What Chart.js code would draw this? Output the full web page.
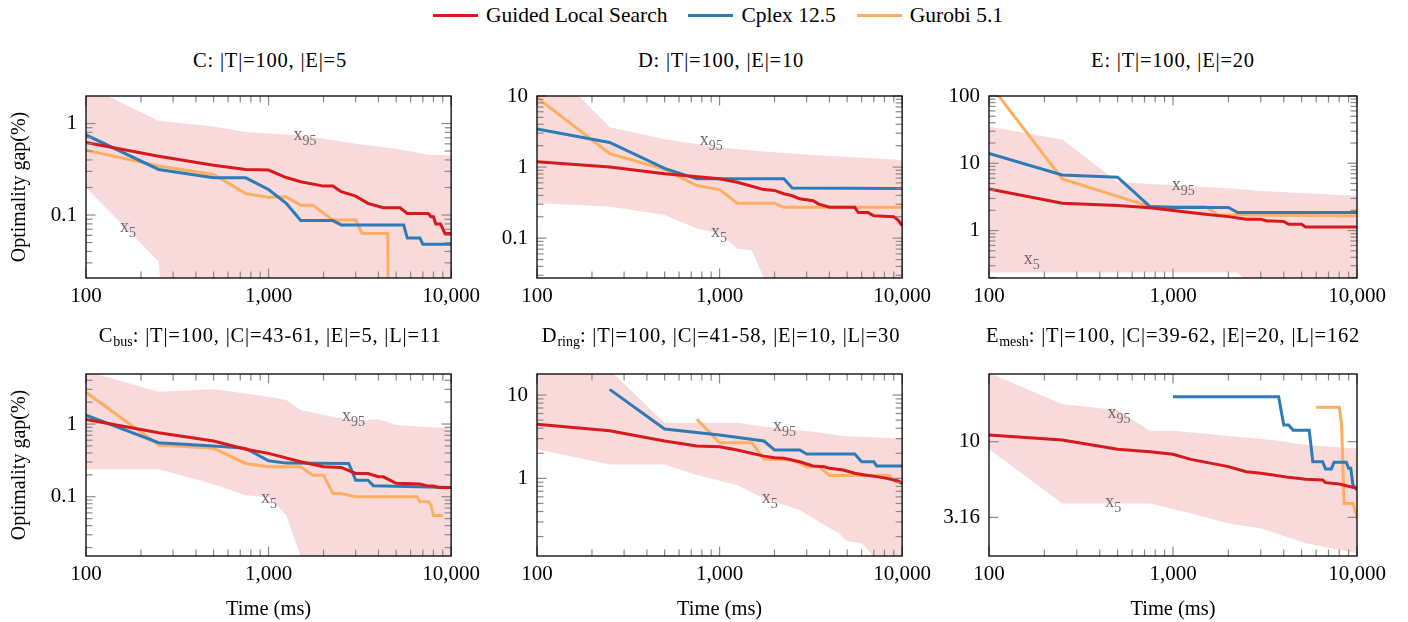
<!DOCTYPE html>
<html>
<head>
<meta charset="utf-8">
<script src="https://cdn.jsdelivr.net/npm/chart.js@4.4.1/dist/chart.umd.min.js"></script>
<style>
  body { margin: 0; background: #fff; }
  #fig { position: relative; width: 1408px; height: 622px; overflow: hidden;
         font-family: "Liberation Serif", "Times New Roman", serif; color: #000; }
  #fig canvas { position: absolute; }
  .ttl { position: absolute; width: 460px; text-align: center; font-size: 20.5px;
         letter-spacing: 0.8px; line-height: 24px; white-space: nowrap; }
  .ttl sub { font-size: 14px; letter-spacing: 0; vertical-align: -4px; line-height: 0; }
  #legend { position: absolute; left: 433px; top: 3px; height: 24px; display: flex;
            align-items: center; font-size: 21.5px; line-height: 24px; white-space: nowrap; }
  #legend .it { display: flex; align-items: center; margin-right: 21px; }
  #legend .sw { display: inline-block; width: 45px; height: 3px; margin-right: 8px; }
</style>
</head>
<body>
<div id="fig">
  <div id="legend">
    <span class="it"><span class="sw" style="background:#d7191c"></span>Guided Local Search</span>
    <span class="it"><span class="sw" style="background:#2c7bb6"></span>Cplex 12.5</span>
    <span class="it"><span class="sw" style="background:#fdae61"></span>Gurobi 5.1</span>
  </div>
</div>
<script>
// x axis (ms) for every panel
const timeTicks = [100, 1000, 10000];

// each series is a list of [time ms, optimality gap %]
// C: |T|=100, |E|=5
const cGls = [[100,0.62],[250,0.44],[500,0.35],[750,0.315],[1000,0.31],[1250,0.257],[1500,0.231],[2000,0.207],[2250,0.207],[2500,0.18],[3000,0.161],[3500,0.134],[4250,0.12],[5250,0.12],[5750,0.104],[7500,0.104],[7750,0.096],[8000,0.096],[8250,0.08],[8750,0.08],[9250,0.063],[10000,0.063]];
const cCplex = [[100,0.75],[250,0.315],[500,0.255],[750,0.255],[1000,0.19],[1250,0.134],[1500,0.087],[2250,0.087],[2500,0.078],[5500,0.078],[5750,0.056],[6750,0.056],[7000,0.048],[10000,0.048]];
const cGurobi = [[100,0.51],[250,0.343],[500,0.278],[750,0.172],[1000,0.156],[1250,0.158],[1500,0.128],[1750,0.128],[2250,0.088],[3000,0.088],[3250,0.063],[4500,0.063],[4750,1e-9]];
const cHi = [[100,2.6],[250,1.07],[500,0.93],[750,0.81],[1000,0.78],[1500,0.74],[2250,0.66],[3000,0.6],[5000,0.53],[7500,0.455],[10000,0.45]];
const cLo = [[100,0.2],[250,0.031],[500,1e-9],[10000,1e-9]];
const cMarks = [['95',1583,0.716],['5',170,0.071]];

// D: |T|=100, |E|=10
const dGls = [[100,1.19],[250,1.0],[500,0.804],[1000,0.683],[1250,0.612],[1750,0.482],[2000,0.47],[2250,0.422],[2500,0.395],[2750,0.358],[3250,0.336],[3500,0.301],[4000,0.272],[5500,0.272],[5750,0.229],[6500,0.229],[7000,0.206],[9000,0.2],[9500,0.18],[10000,0.15]];
const dCplex = [[100,3.43],[250,2.22],[500,0.957],[750,0.683],[2250,0.683],[2500,0.508],[10000,0.5]];
const dGurobi = [[100,9.5],[250,1.55],[500,0.93],[750,0.549],[1000,0.482],[1250,0.311],[2000,0.311],[2250,0.272],[10000,0.272]];
const dHi = [[100,40],[250,3.63],[500,2.47],[1000,1.88],[1750,1.65],[3250,1.48],[10000,1.26]];
const dLo = [[100,0.311],[250,0.279],[500,0.212],[750,0.137],[1000,0.116],[1250,0.071],[1500,0.0675],[1750,0.027],[2000,1e-9],[10000,1e-9]];
const dMarks = [['95',900,2.22],['5',994,0.116]];

// E: |T|=100, |E|=20
const eGls = [[100,4.14],[250,2.54],[500,2.35],[750,2.19],[1000,1.98],[1500,1.75],[2000,1.61],[2500,1.47],[3000,1.47],[3250,1.39],[3500,1.39],[4000,1.36],[4250,1.24],[5000,1.24],[5250,1.13],[10000,1.13]];
const eCplex = [[100,14],[250,6.7],[500,6.2],[750,2.27],[1000,2.2],[2000,2.2],[2250,1.85],[10000,1.85]];
const eGurobi = [[100,155],[250,5.83],[750,2.27],[1500,2.27],[1750,1.71],[10000,1.65]];
const eHi = [[100,35],[250,22.5],[500,5.3],[750,4.9],[2000,4.24],[3000,3.87],[10000,3.3]];
const eLo = [[100,0.238],[2250,0.238],[2500,0.175],[2750,1e-9],[10000,1e-9]];
const eMarks = [['95',1137,4.39],['5',171,0.348]];

// Cbus: |T|=100, |C|=43-61, |E|=5, |L|=11
const cbGls = [[100,1.16],[250,0.76],[500,0.584],[750,0.449],[1000,0.395],[1500,0.303],[2000,0.259],[2500,0.253],[3000,0.209],[3500,0.209],[4000,0.188],[4250,0.188],[5000,0.153],[6750,0.15],[7500,0.14],[8000,0.14],[8500,0.134],[10000,0.134]];
const cbCplex = [[100,1.33],[250,0.553],[500,0.498],[750,0.463],[1000,0.313],[1250,0.29],[2750,0.287],[3000,0.169],[3500,0.169],[3750,0.142],[10000,0.134]];
const cbGurobi = [[100,2.73],[250,0.514],[500,0.463],[750,0.287],[1000,0.259],[1500,0.259],[1750,0.198],[2000,0.198],[2250,0.111],[2500,0.111],[3000,0.1],[6500,0.1],[6750,0.085],[7500,0.085],[7750,0.077],[8000,0.055],[9000,0.055]];
const cbHi = [[100,5.35],[250,2.79],[500,3.0],[750,2.64],[1000,2.38],[1250,2.14],[1500,1.56],[2250,1.26],[3000,1.11],[4000,1.16],[5000,0.97],[10000,0.87]];
const cbLo = [[100,0.238],[250,0.238],[500,0.149],[750,0.105],[1000,0.098],[1250,0.056],[1500,0.015],[1750,1e-9],[10000,1e-9]];
const cbMarks = [['95',2917,1.23],['5',1004,0.09]];

// Dring: |T|=100, |C|=41-58, |E|=10, |L|=30
const drGls = [[100,4.45],[250,3.73],[500,2.81],[750,2.44],[1000,2.4],[1250,2.19],[1750,1.85],[2000,1.77],[2250,1.74],[2750,1.58],[3250,1.41],[3750,1.38],[4000,1.32],[4750,1.26],[5500,1.15],[6250,1.1],[7250,1.05],[8250,1.0],[9500,0.93],[10000,0.87]];
const drCplex = [[250,11.7],[500,3.91],[1000,3.31],[1750,2.81],[2000,2.19],[2750,2.19],[3000,1.96],[5500,1.96],[6000,1.58],[7000,1.58],[7250,1.41],[10000,1.41]];
const drGurobi = [[750,5.14],[1000,2.68],[1500,2.68],[1750,1.71],[2500,1.66],[3000,1.38],[3500,1.38],[4000,1.08],[8500,1.08],[9250,0.91],[10000,0.9]];
const drHi = [[100,25],[250,20],[500,4.66],[1250,4.66],[1750,4.17],[3250,3.63],[4750,3.22],[10000,3.02]];
const drLo = [[100,2.23],[250,1.47],[500,1.47],[750,1.1],[1250,0.83],[1750,0.575],[2750,0.417],[3750,0.275],[4500,0.219],[5000,0.177],[6000,0.166],[6750,0.126],[7000,0.1],[7250,1e-9],[10000,1e-9]];
const drMarks = [['95',2270,3.98],['5',1881,0.55]];

// Emesh: |T|=100, |C|=39-62, |E|=20, |L|=162
const emGls = [[100,11.07],[250,10.25],[500,8.9],[750,8.59],[1000,8.25],[1250,7.64],[2000,6.84],[2500,6.33],[3000,6.18],[3500,6.02],[4250,5.81],[5250,5.64],[6500,5.58],[6750,5.36],[8000,5.25],[10000,4.92]];
const emCplex = [[1000,19.8],[3750,19.8],[4000,12.9],[4250,12.9],[4500,11.9],[5500,11.9],[5750,7.38],[6500,7.38],[6750,6.6],[7250,6.6],[7500,7.3],[8750,7.3],[9000,6.67],[9250,6.67],[9500,5.17],[10000,4.79]];
const emGurobi = [[6000,16.9],[8000,16.9],[8250,13],[8500,3.91],[9500,3.91],[10000,3.19]];
const emHi = [[100,28.5],[250,17.7],[500,16.2],[750,11.8],[1000,11.8],[3500,10.25],[5250,9.5],[10000,9.03]];
const emLo = [[100,8.9],[250,3.91],[750,3.91],[1250,3.37],[2000,2.88],[3000,2.68],[5250,2.13],[10000,1.83]];
const emMarks = [['95',508,15],['5',473,3.9]];

const RED = '#d7191c', BLUE = '#2c7bb6', ORANGE = '#fdae61', BAND = 'rgba(215,25,28,0.16)';
const SERIF = '"Liberation Serif", "Times New Roman", serif';

const panels = [
  {title: 'C: |T|=100, |E|=5', gls: cGls, cplex: cCplex, gurobi: cGurobi, hi: cHi, lo: cLo, marks: cMarks, yMin: 0.0205, yMax: 2, yTicks: [0.1, 1]},
  {title: 'D: |T|=100, |E|=10', gls: dGls, cplex: dCplex, gurobi: dGurobi, hi: dHi, lo: dLo, marks: dMarks, yMin: 0.0275, yMax: 10, yTicks: [0.1, 1, 10]},
  {title: 'E: |T|=100, |E|=20', gls: eGls, cplex: eCplex, gurobi: eGurobi, hi: eHi, lo: eLo, marks: eMarks, yMin: 0.197, yMax: 100, yTicks: [1, 10, 100]},
  {title: 'C<sub>bus</sub>: |T|=100, |C|=43-61, |E|=5, |L|=11', gls: cbGls, cplex: cbCplex, gurobi: cbGurobi, hi: cbHi, lo: cbLo, marks: cbMarks, yMin: 0.0153, yMax: 4.88, yTicks: [0.1, 1]},
  {title: 'D<sub>ring</sub>: |T|=100, |C|=41-58, |E|=10, |L|=30', gls: drGls, cplex: drCplex, gurobi: drGurobi, hi: drHi, lo: drLo, marks: drMarks, yMin: 0.117, yMax: 17.9, yTicks: [1, 10]},
  {title: 'E<sub>mesh</sub>: |T|=100, |C|=39-62, |E|=20, |L|=162', gls: emGls, cplex: emCplex, gurobi: emGurobi, hi: emHi, lo: emLo, marks: emMarks, yMin: 1.756, yMax: 28, yTicks: [3.16, 10], noMinorY: true},
];

// canvas boxes: plot areas at x 86/537/989 (w 368), y 96/374 (h 182)
const cols = [{x: 0, w: 486, yW: 86, padR: 32}, {x: 476, w: 461, yW: 61, padR: 32}, {x: 930, w: 478, yW: 59, padR: 51}];
const rows = [{y: 40, h: 290, padT: 56, xH: 52, ttl: 48}, {y: 318, h: 304, padT: 56, xH: 66, ttl: 323}];

function minorTicks(min, max, majors) {
  const out = [];
  for (let d = Math.floor(Math.log10(min)); d <= Math.ceil(Math.log10(max)); d++) {
    for (let k = 1; k <= 9; k++) {
      const v = k * Math.pow(10, d);
      if (v > min && v < max && !majors.some(m => Math.abs(m - v) < v * 1e-6)) out.push(v);
    }
  }
  return out;
}

function framePlugin(p) {
  return {
    id: 'frame',
    afterDatasetsDraw(chart) {
      const {ctx, chartArea: a, scales: {x, y}} = chart;
      ctx.save();
      ctx.strokeStyle = '#8a8a8a';
      ctx.lineWidth = 1.2;
      const seg = (x1, y1, x2, y2) => { ctx.beginPath(); ctx.moveTo(x1, y1); ctx.lineTo(x2, y2); ctx.stroke(); };
      const xTick = (v, len) => {
        const px = x.getPixelForValue(v);
        seg(px, a.bottom, px, a.bottom - len);
        seg(px, a.top, px, a.top + len);
      };
      const yTick = (v, len) => {
        const py = y.getPixelForValue(v);
        seg(a.left, py, a.left + len, py);
        seg(a.right, py, a.right - len, py);
      };
      minorTicks(100, 10000, timeTicks).forEach(v => xTick(v, 6.5));
      timeTicks.forEach(v => xTick(v, 9.5));
      if (!p.noMinorY) minorTicks(p.yMin, p.yMax, p.yTicks).forEach(v => yTick(v, 6.5));
      p.yTicks.forEach(v => yTick(v, 9.5));

      ctx.strokeStyle = '#000';
      ctx.lineWidth = 1.3;
      ctx.strokeRect(a.left, a.top, a.right - a.left, a.bottom - a.top);

      // x95 / x5 annotations
      ctx.fillStyle = '#6b6b6b';
      ctx.textBaseline = 'alphabetic';
      ctx.textAlign = 'left';
      p.marks.forEach(([sub, t, v]) => {
        const cx = x.getPixelForValue(t), cy = y.getPixelForValue(v);
        ctx.font = '18px ' + SERIF;
        const wx = ctx.measureText('x').width;
        ctx.font = '14px ' + SERIF;
        const ws = ctx.measureText(sub).width;
        const left = cx - (wx + ws) / 2;
        ctx.font = '18px ' + SERIF;
        ctx.fillText('x', left, cy + 3);
        ctx.font = '14px ' + SERIF;
        ctx.fillText(sub, left + wx, cy + 8);
      });
      ctx.restore();
    }
  };
}

const fig = document.getElementById('fig');

panels.forEach((p, i) => {
  const col = cols[i % 3], row = rows[Math.floor(i / 3)];
  const isLeft = i % 3 === 0, isBottom = i >= 3;

  const t = document.createElement('div');
  t.className = 'ttl';
  t.innerHTML = p.title;
  t.style.left = (col.x + col.yW + 184 - 230) + 'px';
  t.style.top = row.ttl + 'px';
  fig.appendChild(t);

  const cv = document.createElement('canvas');
  cv.width = col.w; cv.height = row.h;
  cv.style.left = col.x + 'px'; cv.style.top = row.y + 'px';
  cv.style.width = col.w + 'px'; cv.style.height = row.h + 'px';
  fig.appendChild(cv);

  const line = (label, data, color, order) => ({
    label, data, borderColor: color, backgroundColor: color, borderWidth: 3,
    pointRadius: 0, fill: false, tension: 0, order
  });

  new Chart(cv, {
    type: 'line',
    data: {
      datasets: [
        line('Guided Local Search', p.gls, RED, 0),
        line('Cplex 12.5', p.cplex, BLUE, 1),
        line('Gurobi 5.1', p.gurobi, ORANGE, 2),
        {label: 'x95', data: p.hi, borderWidth: 0, borderColor: 'rgba(0,0,0,0)', pointRadius: 0, backgroundColor: BAND, fill: '+1', order: 5},
        {label: 'x5', data: p.lo, borderWidth: 0, borderColor: 'rgba(0,0,0,0)', pointRadius: 0, fill: false, order: 6}
      ]
    },
    options: {
      responsive: false,
      animation: false,
      devicePixelRatio: 1,
      layout: {padding: {top: row.padT, right: col.padR, left: 0, bottom: 0}},
      plugins: {legend: {display: false}, tooltip: {enabled: false}},
      scales: {
        x: {
          type: 'logarithmic', min: 100, max: 10000,
          grid: {display: false, drawTicks: false}, border: {display: false},
          afterBuildTicks: s => { s.ticks = timeTicks.map(v => ({value: v})); },
          afterFit: s => { s.height = row.xH; },
          ticks: {autoSkip: false, maxRotation: 0, padding: 6, color: '#000',
                  font: {family: SERIF, size: 21}, callback: v => Number(v).toLocaleString('en-US')},
          title: {display: isBottom, text: 'Time (ms)', color: '#000',
                  font: {family: SERIF, size: 20.5}, padding: {top: 0, bottom: 0}}
        },
        y: {
          type: 'logarithmic', min: p.yMin, max: p.yMax,
          grid: {display: false, drawTicks: false}, border: {display: false},
          afterBuildTicks: s => { s.ticks = p.yTicks.map(v => ({value: v})); },
          afterFit: s => { s.width = col.yW; },
          ticks: {autoSkip: false, padding: 9, color: '#000',
                  font: {family: SERIF, size: 21}, callback: v => String(v)},
          title: {display: isLeft, text: 'Optimality gap(%)', color: '#000',
                  font: {family: SERIF, size: 20}, padding: {top: 8, bottom: 0}}
        }
      }
    },
    plugins: [framePlugin(p)]
  });
});
</script>
</body>
</html>
